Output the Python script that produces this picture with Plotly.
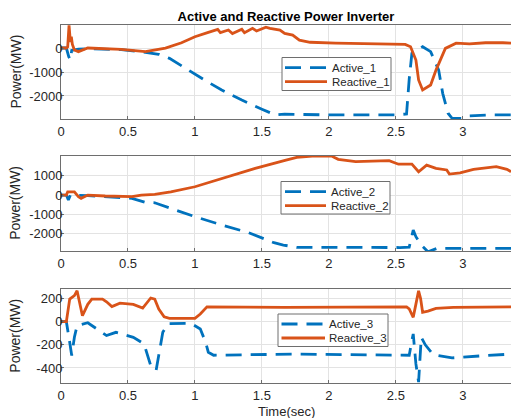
import plotly.graph_objects as go

# ---------------- data ----------------
t_r1 = [0, 0.04, 0.05, 0.06, 0.065, 0.07, 0.077, 0.085, 0.1, 0.13, 0.2, 0.3, 0.45, 0.63, 0.7, 0.78, 0.9, 1.0, 1.1, 1.17,
        1.19, 1.25, 1.28, 1.35, 1.37, 1.43, 1.46, 1.53, 1.56, 1.635, 1.67, 1.73, 1.78, 1.86, 2.05, 2.3, 2.57, 2.61,
        2.65, 2.67, 2.70, 2.76, 2.80, 2.87, 2.95, 3.05, 3.17, 3.30, 3.36]
reactive_1 = [0, 0, 50, 950, 600, 250, 470, 150, -80, -150, 0, -20, -55, -150, -90, 0, 220, 470, 650, 780,
              640, 750, 600, 780, 640, 820, 710, 870, 820, 750, 610, 540, 330, 240, 200, 170, 150, 55,
              -500, -1330, -1750, -1540, -920, -15, 200, 170, 220, 220, 200]
t_a1 = [0, 0.04, 0.058, 0.07, 0.08, 0.13, 0.2, 0.45, 0.63, 0.73, 0.81, 0.95, 1.07, 1.2, 1.35, 1.5, 1.6, 1.67, 2.0,
        2.5, 2.58, 2.60, 2.62, 2.70, 2.76, 2.82, 2.85, 2.89, 2.92, 3.0, 3.05, 3.2, 3.36]
active_1 = [0, 0, -360, -500, -100, -50, -30, -70, -180, -260, -430, -920, -1330, -1750, -2170, -2550, -2790, -2760,
            -2790, -2790, -2750, -1300, -220, 55, -150, -920, -1890, -2720, -2930, -2930, -2830, -2790, -2790]

t_r2 = [0, 0.04, 0.05, 0.1, 0.13, 0.15, 0.2, 0.33, 0.53, 0.6, 0.7, 0.82, 1.0, 1.2, 1.45, 1.68, 1.76, 1.9, 2.02, 2.07,
        2.2, 2.45, 2.52, 2.62, 2.67, 2.73, 2.8, 2.88, 2.9, 2.98, 3.08, 3.25, 3.33, 3.36]
reactive_2 = [0, 0, 170, 170, -85, -170, 0, -50, -85, 0, 35, 170, 430, 860, 1380, 1810, 1950, 2030, 2020, 1850,
              1730, 1780, 1600, 1600, 1210, 1550, 1380, 1300, 1090, 1150, 1330, 1470, 1330, 1210]
t_a2 = [0, 0.04, 0.055, 0.07, 0.2, 0.53, 0.63, 0.7, 0.82, 1.0, 1.2, 1.4, 1.59, 1.66, 1.76, 2.0, 2.53, 2.6, 2.63,
        2.65, 2.69, 2.74, 2.81, 3.0, 3.36]
active_2 = [0, 0, -260, 0, -30, -170, -380, -400, -690, -1120, -1550, -1950, -2470, -2590, -2710, -2720, -2720,
            -2700, -1810, -2160, -2590, -2940, -2760, -2760, -2760]

t_r3 = [0, 0.04, 0.065, 0.1, 0.12, 0.14, 0.16, 0.2, 0.23, 0.31, 0.34, 0.38, 0.44, 0.54, 0.61, 0.67, 0.7, 0.73,
        0.77, 0.81, 1.0, 1.04, 1.09, 1.67, 2.58, 2.6, 2.63, 2.65, 2.67, 2.685, 2.70, 2.74, 2.80, 2.93, 3.36]
reactive_3 = [0, 0, 195, 225, 267, 150, 52, 150, 195, 195, 172, 130, 160, 150, 118, 205, 195, 110,
              43, 29, 29, 66, 128, 124, 128, 110, 38, 152, 267, 200, 81, 92, 115, 124, 128]
t_a3 = [0, 0.04, 0.063, 0.08, 0.1, 0.12, 0.2, 0.27, 0.34, 0.41, 0.54, 0.62, 0.67, 0.71, 0.73, 0.76, 0.8, 0.97,
        1.04, 1.08, 1.1, 1.14, 1.76, 2.56, 2.6, 2.62, 2.63, 2.65, 2.67, 2.69, 2.72, 2.78, 2.92, 3.17, 3.36]
active_3 = [0, 0, -163, -293, -135, -34, -9, -63, -120, -92, -135, -192, -380, -422, -293, -92, -17, -14,
            -63, -178, -264, -290, -280, -290, -290, -163, -106, -365, -522, -135, -200, -285, -313, -293, -280]

x_ticks = [0, 0.5, 1, 1.5, 2, 2.5, 3]
x_ticktext = ["0", "0.5", "1", "1.5", "2", "2.5", "3"]
y1_ticks = [0, -1000, -2000]
y1_ticktext = ["0", "-1000", "-2000"]
y2_ticks = [1000, 0, -1000, -2000]
y2_ticktext = ["1000", "0", "-1000", "-2000"]
y3_ticks = [200, 0, -200, -400]
y3_ticktext = ["200", "0", "-200", "-400"]

title_text = "Active and Reactive Power Inverter"
y_title = "Power(MW)"
x_title = "Time(sec)"

BLUE = "#0072BD"
ORANGE = "#D95319"
FONT = "Liberation Sans, Arial, sans-serif"
AXC = "#6e6e6e"
DASH = "16px,9px"

W, H = 511, 418
L, R, T, B = 61, 0, 25, 35
pw = W - L - R
ph = H - T - B


def px_x(px):
    return (px - L) / pw


def px_y(py):
    return (H - B - py) / ph


def ydom(top_px, bot_px):
    return [max(0.0, px_y(bot_px)), min(1.0, px_y(top_px))]


doms = [ydom(25, 119), ydom(155.7, 251), ydom(289.3, 383)]
yranges = [[-2960, 960], [-2900, 2040], [-530, 280]]
yticks = [(y1_ticks, y1_ticktext), (y2_ticks, y2_ticktext), (y3_ticks, y3_ticktext)]
# legend boxes in pixels: (x0, x1, y0, y1, line_x0, line_x1, text_x, row1_y, row2_y)
legend_boxes = [
    (282, 391, 57.5, 90.5, 285, 327, 330, 67.7, 81.7),
    (281, 390, 181.5, 214, 285, 326, 329, 191.7, 205.7),
    (278, 388, 314, 346.5, 281.5, 325, 327, 324, 338),
]

series = [
    (t_a1, active_1, "Active_1", t_r1, reactive_1, "Reactive_1"),
    (t_a2, active_2, "Active_2", t_r2, reactive_2, "Reactive_2"),
    (t_a3, active_3, "Active_3", t_r3, reactive_3, "Reactive_3"),
]

fig = go.Figure()
layout = dict(
    width=W, height=H,
    margin=dict(l=L, r=R, t=T, b=B),
    paper_bgcolor="white", plot_bgcolor="white",
    font=dict(family=FONT, size=13, color="#262626"),
    showlegend=False,
    title=dict(text="<b>" + title_text + "</b>", x=(L + pw / 2) / W, xanchor="center",
               y=1 - 16 / H, yanchor="middle", font=dict(size=13, color="#000000")),
    annotations=[],
    shapes=[],
)

for i, (ta, ya, na, tr, yr, nr) in enumerate(series):
    k = "" if i == 0 else str(i + 1)
    fig.add_trace(go.Scatter(x=ta, y=ya, name=na, mode="lines", xaxis="x" + k, yaxis="y" + k,
                             line=dict(color=BLUE, width=2.8, dash=DASH)))
    fig.add_trace(go.Scatter(x=tr, y=yr, name=nr, mode="lines", xaxis="x" + k, yaxis="y" + k,
                             line=dict(color=ORANGE, width=2.8)))
    axcommon = dict(showline=True, linecolor=AXC, linewidth=1, mirror=True,
                    showgrid=True, gridcolor="#e3e3e3", gridwidth=1, zeroline=False,
                    ticks="inside", ticklen=3, tickcolor=AXC,
                    tickfont=dict(size=13, color="#262626"))
    layout["xaxis" + k] = dict(domain=[0, 1], range=[0, 3.36], anchor="y" + k,
                               tickvals=x_ticks, ticktext=x_ticktext, **axcommon)
    layout["yaxis" + k] = dict(domain=doms[i], range=yranges[i], anchor="x" + k,
                               tickvals=yticks[i][0], ticktext=yticks[i][1],
                               ticklabelstandoff=-5, **axcommon)
    ymid = (doms[i][0] + doms[i][1]) / 2
    layout["annotations"].append(dict(text=y_title, xref="paper", yref="paper", x=px_x(15.5),
                                      y=ymid, xanchor="center", yanchor="middle", textangle=-90,
                                      showarrow=False, font=dict(size=14, color="#262626")))
    # legend box (drawn manually to match compact MATLAB legend)
    x0, x1, y0, y1, lx0, lx1, tx, r1, r2 = legend_boxes[i]
    layout["shapes"].append(dict(type="rect", xref="paper", yref="paper",
                                 x0=px_x(x0), x1=px_x(x1), y0=px_y(y1), y1=px_y(y0),
                                 line=dict(color=AXC, width=1), fillcolor="white", layer="above"))
    layout["shapes"].append(dict(type="line", xref="paper", yref="paper",
                                 x0=px_x(lx0), x1=px_x(lx1), y0=px_y(r1), y1=px_y(r1),
                                 line=dict(color=BLUE, width=2.8, dash=DASH), layer="above"))
    layout["shapes"].append(dict(type="line", xref="paper", yref="paper",
                                 x0=px_x(lx0), x1=px_x(lx1), y0=px_y(r2), y1=px_y(r2),
                                 line=dict(color=ORANGE, width=2.8), layer="above"))
    for name, ry in ((na, r1), (nr, r2)):
        layout["annotations"].append(dict(text=name, xref="paper", yref="paper", x=px_x(tx), y=px_y(ry),
                                          xanchor="left", yanchor="middle", showarrow=False,
                                          font=dict(size=11.5, color="#262626")))

layout["annotations"].append(dict(text=x_title, xref="paper", yref="paper", x=0.5, y=px_y(411.5),
                                  xanchor="center", yanchor="middle", showarrow=False,
                                  font=dict(size=13, color="#262626")))
fig.update_layout(**layout)
fig.write_html("out.html", config={"displayModeBar": False},
               post_script="document.body.style.margin='0px';document.body.style.overflow='hidden';")
